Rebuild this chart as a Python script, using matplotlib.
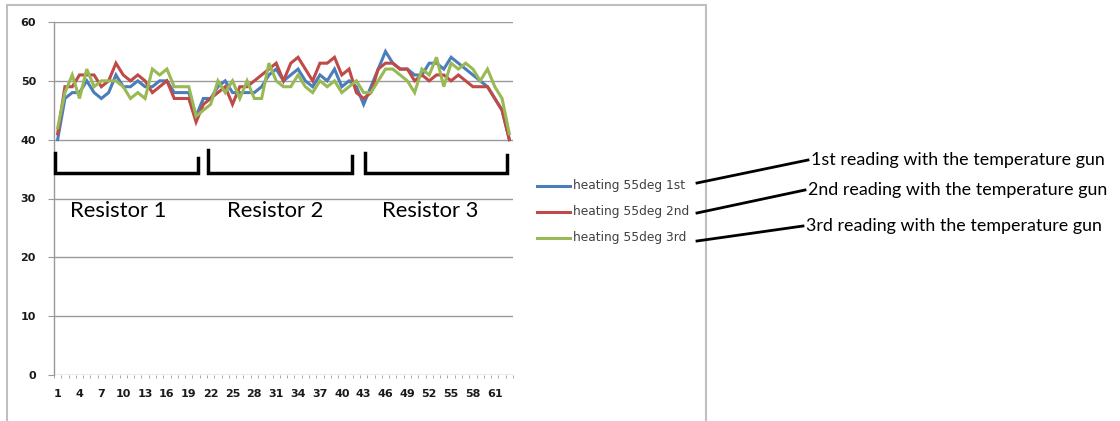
import matplotlib
matplotlib.use("Agg")
import matplotlib.pyplot as plt
from matplotlib.lines import Line2D
from matplotlib.patches import Rectangle

# Readings per measurement point (63 points across three resistors)
points = list(range(1, 64))
heating_1st = [40, 47, 48, 48, 50, 48, 47, 48, 51, 49, 49, 50, 49, 49, 50, 50,
               48, 48, 48, 44, 47, 47, 49, 50, 48, 48, 48, 48, 49, 51, 52, 50,
               51, 52, 50, 49, 51, 50, 52, 49, 50, 49, 46, 49, 52, 55, 53, 52,
               52, 51, 51, 53, 53, 52, 54, 53, 52, 51, 50, 49, 47, 45, 40]
heating_2nd = [41, 49, 49, 51, 51, 51, 49, 50, 53, 51, 50, 51, 50, 48, 49, 50,
               47, 47, 47, 43, 46, 47, 48, 49, 46, 49, 49, 50, 51, 52, 53, 50,
               53, 54, 52, 50, 53, 53, 54, 51, 52, 48, 47, 48, 52, 53, 53, 52,
               52, 50, 51, 50, 51, 51, 50, 51, 50, 49, 49, 49, 47, 45, 40]
heating_3rd = [42, 48, 51, 47, 52, 49, 50, 50, 50, 49, 47, 48, 47, 52, 51, 52,
               49, 49, 49, 44, 45, 46, 50, 48, 50, 47, 50, 47, 47, 53, 50, 49,
               49, 51, 49, 48, 50, 49, 50, 48, 49, 50, 48, 48, 50, 52, 52, 51,
               50, 48, 52, 51, 54, 49, 53, 52, 53, 52, 50, 52, 49, 47, 41]

series_names = ["heating 55deg 1st", "heating 55deg 2nd", "heating 55deg 3rd"]
series_colors = ["#4a7ebb", "#be4b48", "#98b954"]
y_ticks = [0, 10, 20, 30, 40, 50, 60]
x_labels = list(range(1, 62, 3))

resistor_labels = ["Resistor 1", "Resistor 2", "Resistor 3"]
notes = ["1st reading with the temperature gun",
         "2nd reading with the temperature gun",
         "3rd reading with the temperature gun"]

W, H = 1120, 421
fig = plt.figure(figsize=(W / 100, H / 100), dpi=100)


def fx(px):
    return px / W


def fy(py):
    return 1 - py / H


# Chart frame
fig.patches.append(Rectangle((fx(7), fy(440)), fx(706) - fx(7), fy(5) - fy(440),
                             transform=fig.transFigure, fill=False,
                             edgecolor="#bfbfbf", linewidth=1.5))

ax = fig.add_axes([fx(54), fy(375), fx(513) - fx(54), fy(22) - fy(375)])
for vals, name, col in zip([heating_1st, heating_2nd, heating_3rd], series_names, series_colors):
    ax.plot(points, vals, color=col, linewidth=2.2, label=name, solid_joinstyle="miter")

ax.set_xlim(0.5, 63.5)
ax.set_ylim(0, 60)
ax.set_yticks(y_ticks)
ax.yaxis.grid(True, color="#999999", linewidth=1.0)
ax.set_axisbelow(True)
for s in ["top", "right", "bottom"]:
    ax.spines[s].set_visible(False)
ax.spines["left"].set_color("#999999")
ax.spines["left"].set_linewidth(1.0)
ax.tick_params(axis="y", direction="out", length=4, color="#999999",
               labelsize=8, pad=9, labelcolor="#1a1a1a")
ax.set_xticks(x_labels)
ax.set_xticklabels([str(v) for v in x_labels])
ax.set_xticks([v + 0.5 for v in range(0, 64)], minor=True)
ax.tick_params(axis="x", which="major", length=0, labelsize=8, pad=10,
               labelcolor="#1a1a1a")
ax.tick_params(axis="x", which="minor", direction="out", length=2.5, color="#999999")
for lab in ax.get_xticklabels() + ax.get_yticklabels():
    lab.set_fontweight("bold")

# Legend to the right of the plot area
leg_y = [186, 212, 238]
for yy, name, col in zip(leg_y, series_names, series_colors):
    fig.add_artist(Line2D([fx(537), fx(570)], [fy(yy), fy(yy)], color=col,
                          linewidth=2.2, transform=fig.transFigure))
    fig.text(fx(573), fy(yy), name, fontsize=8.8, color="#404040",
             va="center", ha="left")

# Brackets grouping the resistors
brackets = [(55, 198, 153, 158), (208, 352, 150, 156), (365, 507, 153, 155)]
for x0, x1, ytl, ytr in brackets:
    fig.add_artist(Line2D([fx(x0), fx(x0), fx(x1), fx(x1)],
                          [fy(ytl), fy(173), fy(173), fy(ytr)],
                          color="black", linewidth=2.5, transform=fig.transFigure,
                          solid_joinstyle="miter"))
for cx, lab in zip([118, 275, 430], resistor_labels):
    fig.text(fx(cx), fy(211), lab, fontsize=15.8, family="Lato", color="black",
             ha="center", va="center")

# Callout lines with explanatory notes
callouts = [((697, 183), (808, 160)), ((697, 213), (805, 190)), ((697, 241), (803, 226))]
for ((x0, y0), (x1, y1)), txt in zip(callouts, notes):
    fig.add_artist(Line2D([fx(x0), fx(x1)], [fy(y0), fy(y1)], color="black",
                          linewidth=2.0, transform=fig.transFigure))
    fig.text(fx(x1 + 3), fy(y1), txt, fontsize=12.9, family="Lato", color="black",
             ha="left", va="center")

fig.savefig("out.png", dpi=100)
